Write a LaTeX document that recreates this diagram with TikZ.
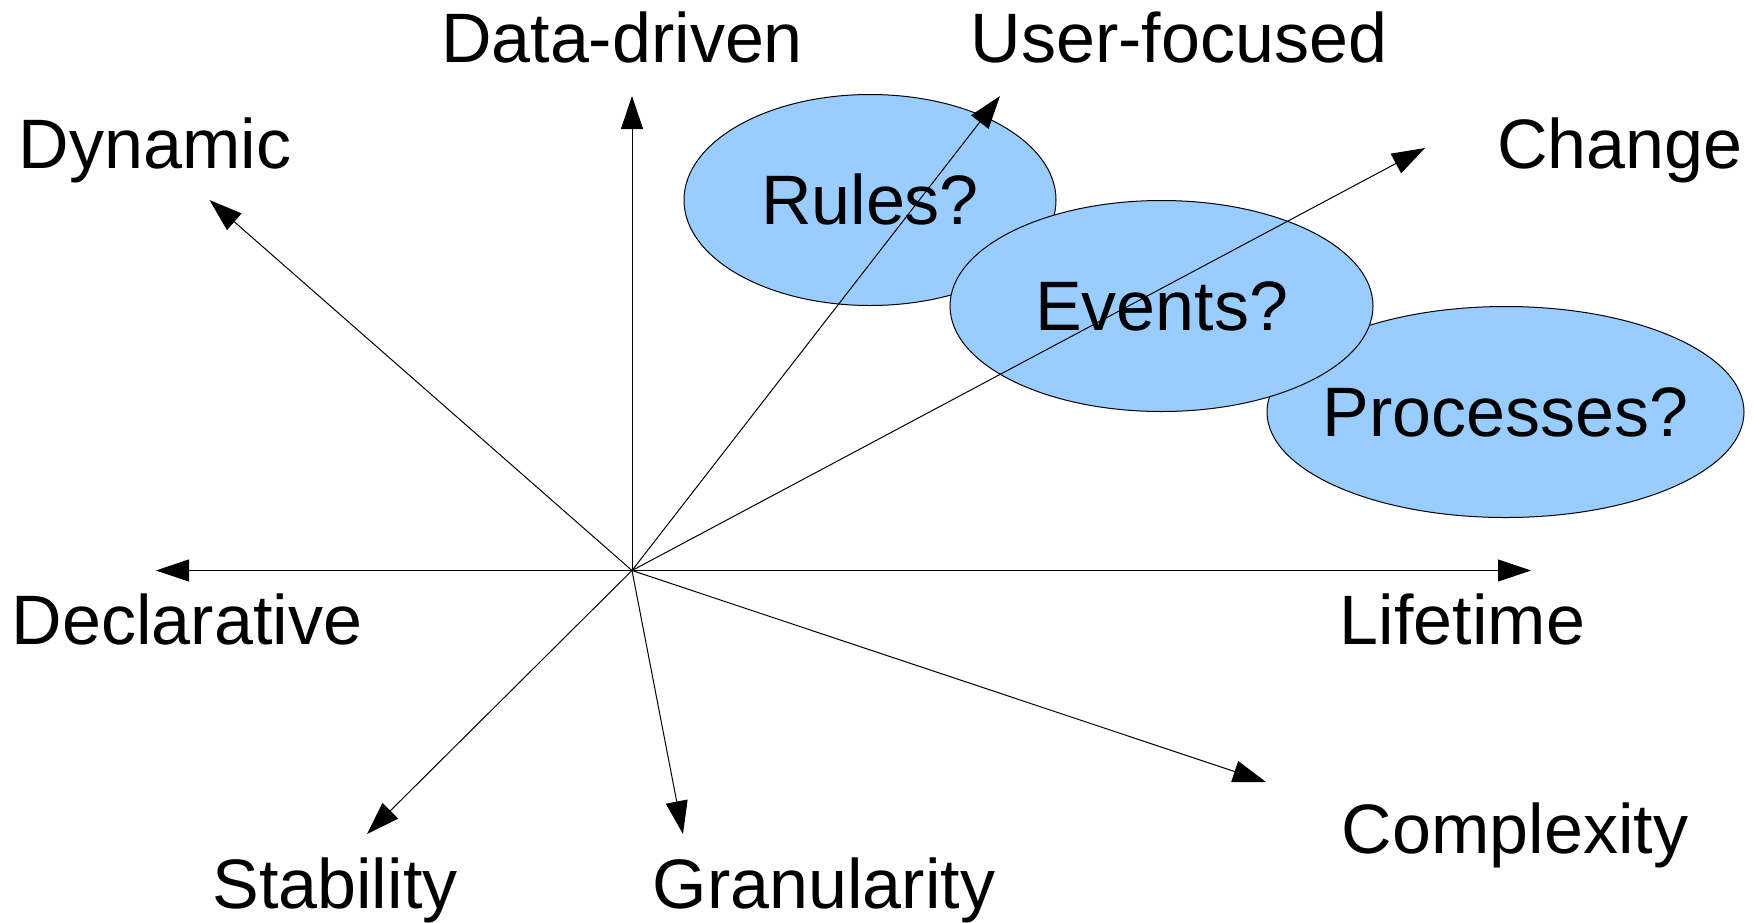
\documentclass[tikz,border=0pt]{standalone}
\usepackage{fontspec}
\setmainfont{Liberation Sans}
\usetikzlibrary{arrows.meta,shapes.geometric}
\definecolor{blob}{HTML}{99CCFF}
\begin{document}
\begin{tikzpicture}[x=1pt,y=-1pt,
  lbl/.style={inner sep=0pt,anchor=base,font=\fontsize{70}{84}\selectfont},
  blobnode/.style={ellipse,draw=black,line width=1pt,fill=blob,inner sep=0pt},
  axis/.style={line width=1pt,-{Triangle[length=33pt,width=22pt]}}]
\useasboundingbox (0,0) rectangle (1757,922);
% ellipses
\node[blobnode,minimum width=477pt,minimum height=211pt] (proc) at (1505.5,412) {};
\node[lbl] (tproc) at ([yshift=-24.5pt]proc.center) {Processes?};
\node[blobnode,minimum width=372pt,minimum height=211pt] (rules) at (870,200) {};
\node[lbl] (trules) at ([yshift=-24.5pt]rules.center) {Rules?};
\node[blobnode,minimum width=423pt,minimum height=211pt] (events) at (1161.5,306) {};
\node[lbl] (tevents) at ([yshift=-24.5pt]events.center) {Events?};
% origin and arrow ends
\coordinate (O) at (632,570.5);
\coordinate (tData) at (632,96);
\coordinate (tDyn) at (209.5,200);
\coordinate (tUser) at (1000,96);
\coordinate (tChange) at (1425,148);
\coordinate (tDecl) at (156,570.5);
\coordinate (tLife) at (1531,570.5);
\coordinate (tComp) at (1266,782);
\coordinate (tGran) at (683,834);
\coordinate (tStab) at (367,834);
\draw[axis] (O) -- (tData);
\draw[axis] (O) -- (tDyn);
\draw[axis] (O) -- (tUser);
\draw[axis] (O) -- (tChange);
\draw[axis] (O) -- (tDecl);
\draw[axis] (O) -- (tLife);
\draw[axis] (O) -- (tComp);
\draw[axis] (O) -- (tGran);
\draw[axis] (O) -- (tStab);
% labels
\node[lbl] (lData) at (622,62) {Data-driven};
\node[lbl] (lDyn) at (155,168) {Dynamic};
\node[lbl] (lUser) at (1179,62) {User-focused};
\node[lbl] (lChange) at (1620,168) {Change};
\node[lbl] (lDecl) at (187,644) {Declarative};
\node[lbl] (lLife) at (1462.5,644) {Lifetime};
\node[lbl] (lComp) at (1515,853) {Complexity};
\node[lbl] (lStab) at (335,908) {Stability};
\node[lbl] (lGran) at (824,908) {Granularity};
\end{tikzpicture}
\end{document}
